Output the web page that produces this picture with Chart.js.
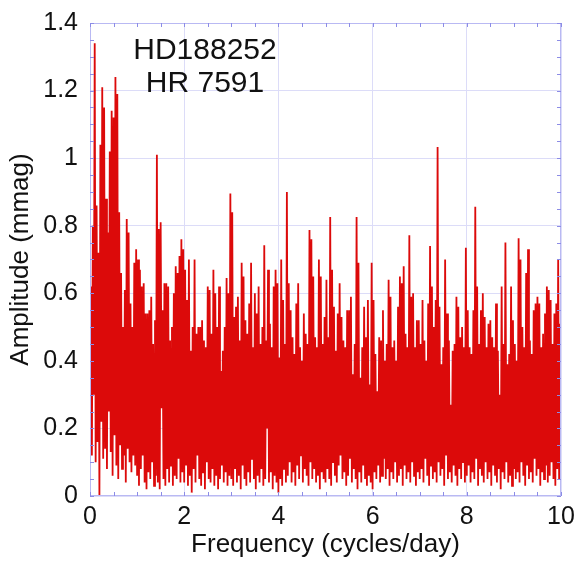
<!DOCTYPE html>
<html>
<head>
<meta charset="utf-8">
<script src="https://cdn.jsdelivr.net/npm/chart.js@4"></script>
<style>
  html, body { margin: 0; padding: 0; background: #fff; }
</style>
</head>
<body>
<canvas id="grafico" width="576" height="561"></canvas>
<script>
// Espectro de amplitud: picos (en f = 0.02 + 0.04k) y valles (en f = 0.04k), en mmag
const paso = 0.04;
const picos = [
  0.62, 0.80, 1.34, 0.86, 0.72, 1.04, 1.21, 1.15, 0.88, 0.78, 1.02, 1.14, 1.12, 1.24, 1.19, 0.84, 0.66, 0.50, 0.61, 0.82, 0.78, 0.57, 0.50, 0.69, 0.73,
  0.70, 0.67, 0.62, 0.63, 0.54, 0.54, 0.55, 0.59, 0.45, 0.52, 1.01, 0.79, 0.81, 0.55, 0.63, 0.63, 0.62, 0.46, 0.50, 0.60, 0.68, 0.66, 0.71, 0.76, 0.73,
  0.67, 0.58, 0.70, 0.43, 0.50, 0.70, 0.48, 0.50, 0.50, 0.52, 0.46, 0.44, 0.62, 0.61, 0.48, 0.67, 0.60, 0.50, 0.62, 0.37, 0.43, 0.50, 0.645, 0.60, 0.895,
  0.84, 0.53, 0.56, 0.59, 0.46, 0.69, 0.65, 0.52, 0.48, 0.57, 0.69, 0.44, 0.60, 0.54, 0.62, 0.45, 0.50, 0.742, 0.46, 0.67, 0.51, 0.44, 0.62, 0.67, 0.63,
  0.41, 0.70, 0.58, 0.45, 0.90, 0.63, 0.55, 0.47, 0.42, 0.57, 0.63, 0.44, 0.40, 0.54, 0.48, 0.45, 0.787, 0.76, 0.65, 0.47, 0.44, 0.70, 0.65, 0.45, 0.53,
  0.64, 0.47, 0.826, 0.67, 0.56, 0.43, 0.54, 0.63, 0.53, 0.46, 0.44, 0.55, 0.55, 0.59, 0.36, 0.45, 0.826, 0.69, 0.35, 0.44, 0.56, 0.47, 0.58, 0.33, 0.69,
  0.58, 0.42, 0.31, 0.47, 0.46, 0.55, 0.40, 0.45, 0.64, 0.59, 0.44, 0.46, 0.40, 0.56, 0.65, 0.63, 0.68, 0.48, 0.44, 0.772, 0.59, 0.60, 0.44, 0.52, 0.52,
  0.45, 0.58, 0.46, 0.40, 0.57, 0.74, 0.62, 0.50, 0.58, 1.033, 0.56, 0.39, 0.44, 0.70, 0.54, 0.46, 0.27, 0.43, 0.45, 0.59, 0.56, 0.47, 0.50, 0.44, 0.735,
  0.55, 0.44, 0.42, 0.55, 0.856, 0.62, 0.45, 0.55, 0.60, 0.53, 0.44, 0.51, 0.52, 0.47, 0.44, 0.57, 0.43, 0.30, 0.62, 0.45, 0.75, 0.39, 0.42, 0.62, 0.52,
  0.45, 0.40, 0.763, 0.70, 0.50, 0.44, 0.66, 0.73, 0.46, 0.42, 0.55, 0.57, 0.59, 0.57, 0.44, 0.48, 0.54, 0.62, 0.61, 0.58, 0.45, 0.54, 0.57, 0.70, 0.51
];
const valles = [
  0.50, 0.12, 0.30, 0.10, 0.16, 0.00, 0.22, 0.11, 0.14, 0.08, 0.25, 0.13, 0.06, 0.18, 0.09, 0.05, 0.15, 0.08, 0.12, 0.04, 0.14, 0.10, 0.07, 0.12, 0.09,
  0.06, 0.03, 0.08, 0.12, 0.04, 0.02, 0.07, 0.05, 0.10, 0.03, 0.06, 0.04, 0.02, 0.26, 0.05, 0.03, 0.08, 0.04, 0.09, 0.03, 0.06, 0.05, 0.11, 0.04, 0.07,
  0.04, 0.09, 0.03, 0.06, 0.01, 0.08, 0.04, 0.12, 0.05, 0.03, 0.07, 0.02, 0.10, 0.05, 0.04, 0.08, 0.03, 0.06, 0.02, 0.05, 0.09, 0.04, 0.07, 0.03, 0.06,
  0.05, 0.03, 0.08, 0.04, 0.06, 0.02, 0.09, 0.05, 0.03, 0.07, 0.04, 0.11, 0.05, 0.02, 0.06, 0.04, 0.08, 0.03, 0.05, 0.20, 0.04, 0.07, 0.02, 0.06, 0.04,
  0.01, 0.05, 0.03, 0.08, 0.04, 0.06, 0.10, 0.04, 0.07, 0.03, 0.09, 0.05, 0.12, 0.04, 0.08, 0.06, 0.03, 0.10, 0.05, 0.08, 0.04, 0.06, 0.02, 0.07, 0.05,
  0.04, 0.08, 0.05, 0.03, 0.10, 0.06, 0.04, 0.09, 0.12, 0.05, 0.07, 0.03, 0.06, 0.11, 0.04, 0.08, 0.05, 0.02, 0.07, 0.04, 0.09, 0.05, 0.03, 0.06, 0.04,
  0.02, 0.07, 0.05, 0.09, 0.04, 0.06, 0.11, 0.05, 0.08, 0.03, 0.07, 0.05, 0.10, 0.04, 0.06, 0.08, 0.03, 0.09, 0.05, 0.07, 0.04, 0.10, 0.06, 0.03, 0.07,
  0.05, 0.08, 0.04, 0.11, 0.06, 0.03, 0.09, 0.05, 0.07, 0.04, 0.10, 0.06, 0.08, 0.03, 0.12, 0.05, 0.07, 0.04, 0.09, 0.06, 0.03, 0.08, 0.05, 0.10, 0.04,
  0.06, 0.09, 0.04, 0.07, 0.05, 0.11, 0.03, 0.08, 0.06, 0.04, 0.10, 0.05, 0.07, 0.03, 0.09, 0.06, 0.04, 0.08, 0.02, 0.07, 0.05, 0.10, 0.04, 0.06, 0.03,
  0.08, 0.05, 0.07, 0.04, 0.10, 0.06, 0.03, 0.09, 0.05, 0.07, 0.04, 0.11, 0.06, 0.08, 0.03, 0.07, 0.05, 0.09, 0.04, 0.06, 0.10, 0.05, 0.03, 0.08, 0.05,
  0.12
];
const etiquetasTitulo = ['HD188252', 'HR 7591'];

// Intercalamos valles y picos para formar la curva
const puntos = [];
for (let k = 0; k < picos.length; k++) {
  puntos.push({ x: k * paso, y: valles[k] });
  puntos.push({ x: k * paso + paso / 2, y: picos[k] });
}
puntos.push({ x: picos.length * paso, y: valles[picos.length] });

const fuente = '"Liberation Sans", Arial, Helvetica, sans-serif';
const negro = '#111111';

// Marco, marcas interiores y nombre de la estrella
const marco = {
  id: 'marco',
  afterDraw(chart) {
    const { ctx, chartArea: a, scales: { x, y } } = chart;
    ctx.save();
    ctx.lineWidth = 1;
    ctx.strokeStyle = '#b9b9f3';
    ctx.strokeRect(a.left + 0.5, a.top + 0.5, a.right - a.left - 1, a.bottom - a.top - 1);

    ctx.strokeStyle = '#8c8ce6';
    ctx.beginPath();
    for (let i = 0; i <= 20; i++) {
      const px = Math.round(x.getPixelForValue(i * 0.5)) + 0.5;
      ctx.moveTo(px, a.bottom); ctx.lineTo(px, a.bottom - 4);
      ctx.moveTo(px, a.top); ctx.lineTo(px, a.top + 4);
    }
    for (let j = 0; j <= 28; j++) {
      const py = Math.round(y.getPixelForValue(j * 0.05)) + 0.5;
      ctx.moveTo(a.left, py); ctx.lineTo(a.left + 4, py);
      ctx.moveTo(a.right, py); ctx.lineTo(a.right - 4, py);
    }
    ctx.stroke();

    ctx.font = '30px ' + fuente;
    ctx.fillStyle = negro;
    ctx.textAlign = 'center';
    ctx.textBaseline = 'alphabetic';
    ctx.fillText(etiquetasTitulo[0], a.left + 115, a.top + 36);
    ctx.fillText(etiquetasTitulo[1], a.left + 115, a.top + 69);
    ctx.restore();
  }
};

new Chart(document.getElementById('grafico'), {
  type: 'line',
  data: {
    datasets: [{
      data: puntos,
      borderColor: '#dc0a0a',
      borderWidth: 1.8,
      pointRadius: 0,
      tension: 0,
      fill: false
    }]
  },
  options: {
    responsive: false,
    animation: false,
    layout: { padding: { left: 0, right: 15, top: 23, bottom: 0 } },
    plugins: { legend: { display: false }, tooltip: { enabled: false } },
    scales: {
      x: {
        type: 'linear',
        min: 0,
        max: 10,
        afterFit: s => { s.height = 65; s.paddingLeft = 0; s.paddingRight = 0; },
        grid: { color: '#dcdcf8', drawTicks: false },
        border: { display: false },
        ticks: { stepSize: 2, padding: 6, color: negro, font: { family: fuente, size: 25 } },
        title: {
          display: true,
          text: 'Frequency (cycles/day)',
          color: negro,
          font: { family: fuente, size: 26 },
          padding: { top: 0, bottom: 1 }
        }
      },
      y: {
        min: 0,
        max: 1.4,
        afterFit: s => { s.width = 90; s.paddingTop = 0; s.paddingBottom = 0; },
        grid: { color: '#dcdcf8', drawTicks: false },
        border: { display: false },
        ticks: {
          stepSize: 0.2,
          padding: 12,
          color: negro,
          font: { family: fuente, size: 25 },
          callback: v => String(+v.toFixed(1))
        },
        title: {
          display: true,
          text: 'Amplitude (mmag)',
          color: negro,
          font: { family: fuente, size: 26 },
          padding: { top: 5, bottom: 0 }
        }
      }
    }
  },
  plugins: [marco]
});
</script>
</body>
</html>
